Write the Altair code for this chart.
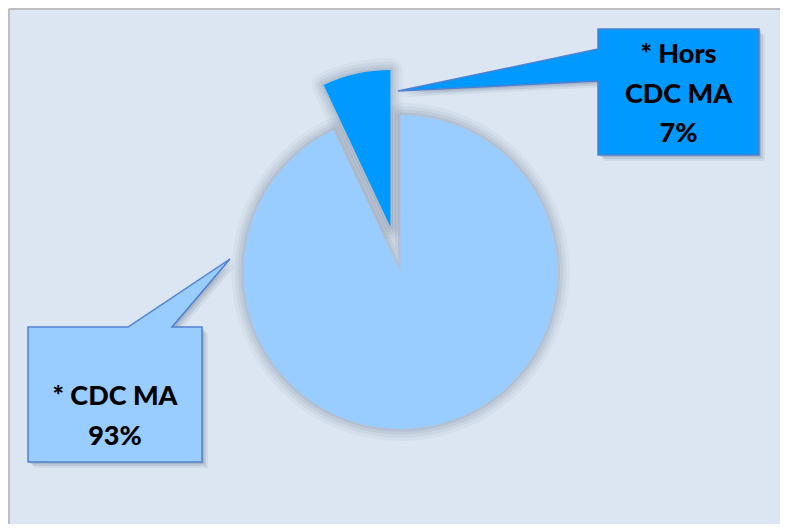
import math
import altair as alt
import pandas as pd

# ---- data ----
categories = ["* CDC MA", "* Hors CDC MA"]
values = [93, 7]
label_lines = [["* CDC MA", "93%"], ["* Hors", "CDC MA", "7%"]]
slice_colors = ["#99ccff", "#0099ff"]

W, H = 772, 516
CX, CY, R = 392.5, 264, 157
EXPLODE = 46
BG = "#dce6f2"

df = pd.DataFrame({"category": categories, "value": values, "order": [0, 1]})
total = sum(values)

# explode offset for the small slice, from its mid angle
start = values[0] / total
mid = 2 * math.pi * (start + values[1] / total / 2)
EX = CX + EXPLODE * math.sin(mid)
EY = CY - EXPLODE * math.cos(mid)

base = alt.Chart(df).transform_stack(
    stack="value", groupby=[], as_=["v0", "v1"], sort=[alt.SortField("order")]
)
theta_enc = dict(
    theta=alt.Theta("v0:Q", scale=alt.Scale(domain=[0, total])),
    theta2="v1:Q",
)


def slice_layer(cat, cx, cy, **mk):
    return base.transform_filter(alt.datum.category == cat).mark_arc(
        radius=R, **mk
    ).encode(x=alt.value(cx), y=alt.value(cy), **theta_enc)


layers = []
# soft shadow around the pie pieces
for w, op in [(24, 0.05), (17, 0.06), (11, 0.08), (5, 0.10)]:
    for cat, (cx, cy) in zip(categories, [(CX, CY), (EX, EY)]):
        layers.append(
            slice_layer(cat, cx, cy, fill="#4a5a72", fillOpacity=0,
                        stroke="#4a5a72", strokeWidth=w, strokeOpacity=op,
                        strokeJoin="round")
        )
layers.append(slice_layer(categories[0], CX, CY, fill=slice_colors[0]))
layers.append(slice_layer(categories[1], EX, EY, fill=slice_colors[1]))

# ---- callouts ----
right_path = "M0,0 L161,0 L161,126 L0,126 L0,52 L-200,62 L0,20 Z"
left_path = "M0,0 L100,0 L202,-68 L144,0 L174,0 L174,135 L0,135 Z"
callouts = [
    # (path, anchor x, anchor y, fill, text x, text baseline y, lines)
    (left_path, 20, 319, slice_colors[0], 107, 397, label_lines[0]),
    (right_path, 590, 21, slice_colors[1], 670.5, 55, label_lines[1]),
]
one = pd.DataFrame({"k": [0]})
for path, ax, ay, fill, tx, ty, lines in callouts:
    for off, op in [(6, 0.08), (4, 0.12), (2, 0.15)]:
        layers.append(
            alt.Chart(one).mark_point(
                shape=path, size=4, filled=True, fill="#3a4a60", opacity=op,
                strokeWidth=0,
            ).encode(x=alt.value(ax + off), y=alt.value(ay + off))
        )
    layers.append(
        alt.Chart(one).mark_point(
            shape=path, size=4, filled=True, fill=fill, opacity=1,
            stroke="#4f81d0", strokeWidth=1.5,
        ).encode(x=alt.value(ax), y=alt.value(ay))
    )
    txt = pd.DataFrame({"label": ["\n".join(lines)]})
    layers.append(
        alt.Chart(txt).mark_text(
            font="Lato", fontSize=27, fontWeight=900, color="#000000",
            align="center", baseline="alphabetic", lineBreak="\n", lineHeight=39.5,
        ).encode(x=alt.value(tx), y=alt.value(ty), text="label:N")
    )

# top/left frame edge
layers.append(
    alt.Chart(one).mark_rule(color="#bfbfbf", strokeWidth=2).encode(
        x=alt.value(1), x2=alt.value(W), y=alt.value(1)
    )
)
layers.append(
    alt.Chart(one).mark_rule(color="#bfbfbf", strokeWidth=2).encode(
        x=alt.value(1), y=alt.value(1), y2=alt.value(H)
    )
)

chart = alt.layer(*layers).properties(
    width=W, height=H, padding=0, background=BG,
    autosize=alt.AutoSizeParams(type="fit", contains="padding"),
).configure_view(stroke=None)

chart.save("out.html", embed_options={"renderer": "svg", "actions": False})
